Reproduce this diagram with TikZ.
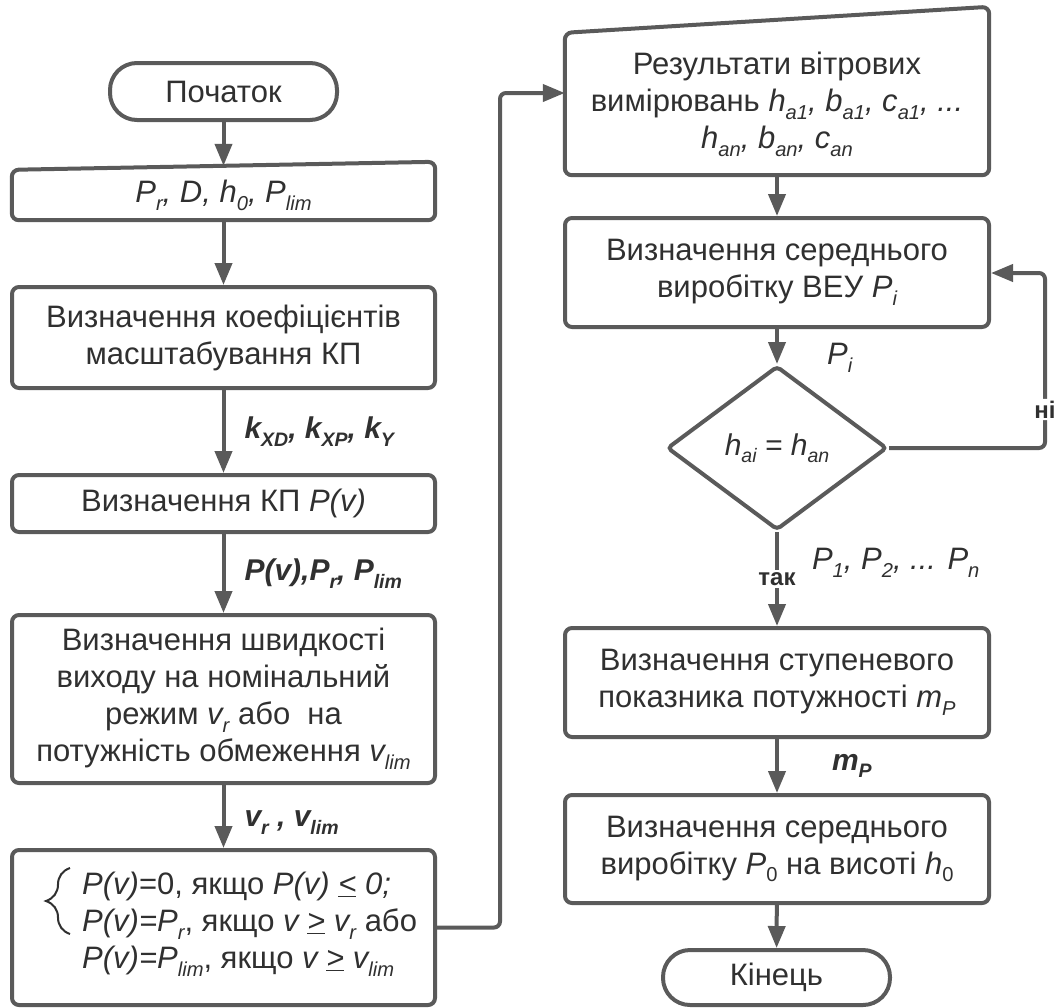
\documentclass[tikz,border=0pt]{standalone}
\usepackage{fontspec}
\setmainfont{Liberation Sans}
\usetikzlibrary{arrows.meta,shapes.geometric,decorations.pathreplacing}
\definecolor{ln}{HTML}{5A5A5A}
\definecolor{tx}{HTML}{303030}
\newcommand\sbx[1]{\raisebox{-0.25em}{\scalebox{0.65}{#1}}}
\newcommand\tsz{\fontsize{31}{37}\selectfont}
\newcommand\lsz{\fontsize{30}{34}\selectfont}
\newcommand\ssz{\fontsize{24}{28}\selectfont}
\begin{document}
\begin{tikzpicture}[x=1pt,y=-1pt,
  line/.style={draw=ln, line width=4pt},
  arr/.style={line, -{Triangle[length=22pt,width=17pt]}},
  proc/.style={draw=ln, line width=4pt, rounded corners=7pt, align=center, text=tx, font=\tsz, inner sep=0pt},
  ghost/.style={align=center, text=tx, font=\tsz, inner sep=0pt},
  term/.style={draw=ln, line width=4pt, rounded corners=27pt, text=tx, font=\tsz, inner sep=0pt},
  lbl/.style={text=tx, font=\lsz\bfseries\itshape, inner sep=0pt, anchor=west},
  yn/.style={text=tx, font=\ssz\bfseries, fill=white, inner sep=2pt},
]
\useasboundingbox (0,0) rectangle (1057,1007);

% ---------- left column ----------
\node[term, minimum width=227pt, minimum height=57pt] (start) at (223.5,91.5) {Початок};
\node[ghost, minimum width=423pt, minimum height=50pt] (inp) at (223.5,195) {\textit{P\sbx{r}, D, h\sbx{0}, P\sbx{lim}}};
\draw[line, rounded corners=7pt] (inp.north west) -- ([yshift=8pt]inp.north east) -- (inp.south east) -- (inp.south west) -- cycle;
\node[proc, minimum width=423pt, minimum height=101pt] (b2) at (223.5,337.5) {Визначення коефіцієнтів\\масштабування КП};
\node[proc, minimum width=423pt, minimum height=57pt] (b3) at (223.5,503.5) {Визначення КП \textit{P(v)}};
\node[proc, minimum width=423pt, minimum height=168pt] (b4) at (223.5,699) {Визначення швидкості\\виходу на номінальний\\режим \textit{v\sbx{r}} або~ на\\потужність обмеження \textit{v\sbx{lim}}};
\node[proc, minimum width=423pt, minimum height=155pt] (b5) at (223.5,927.5) {};
\node[ghost, align=left, anchor=west] (b5t) at (82,924) {\textit{P(v)}=0, якщо \textit{P(v) \underline{<} 0;}\\\textit{P(v)=P\sbx{r}}, якщо \textit{v \underline{>} v\sbx{r}} або\\\textit{P(v)=P\sbx{lim}}, якщо \textit{v \underline{>} v\sbx{lim}}};
\draw[draw=tx, line width=2pt, decorate, decoration={brace, amplitude=24pt}] (70,934) -- (70,868);

% ---------- right column ----------
\node[ghost, minimum width=424pt, minimum height=142pt] (res) at (777,104) {Результати вітрових\\вимірювань \textit{h\sbx{a1}, b\sbx{a1}, c\sbx{a1}, ...}\\\textit{h\sbx{an}, b\sbx{an}, c\sbx{an}}};
\draw[line, rounded corners=7pt] (res.north west) -- ([yshift=26pt]res.north east) -- (res.south east) -- (res.south west) -- cycle;
\node[proc, minimum width=424pt, minimum height=109pt] (pi) at (777,272.5) {Визначення середнього\\виробітку ВЕУ \textit{P\sbx{i}}};
\node[draw=ln, line width=4pt, diamond, rounded corners=4pt, minimum width=220pt, minimum height=164pt, inner sep=0pt, text=tx, font=\fontsize{30}{34}\selectfont] (dia) at (777,448) {\textit{h\sbx{ai} = h\sbx{an}}};
\node[proc, minimum width=424pt, minimum height=109pt] (step) at (777,682.5) {Визначення ступеневого\\показника потужності \textit{m\sbx{P}}};
\node[proc, minimum width=424pt, minimum height=108pt] (p0) at (777,849) {Визначення середнього\\виробітку \textit{P}\sbx{0} на висоті \textit{h}\sbx{0}};
\node[term, minimum width=227pt, minimum height=55pt] (fin) at (776.5,977.5) {Кінець};
\node[ghost, anchor=west, font=\tsz\itshape] (pil) at ([xshift=50pt,yshift=6pt]dia.north) {P\sbx{i}};

\coordinate (c1) at (500,93);
\coordinate (c2) at (1045,273);

% ---------- connectors ----------
\draw[arr] (start) -- ([yshift=4pt]inp.north);
\draw[arr] (inp) -- (b2);
\draw[arr] (b2) -- node[lbl, xshift=19pt] {k\sbx{XD}, k\sbx{XP}, k\sbx{Y}} (b3);
\draw[arr] (b3) -- node[lbl, xshift=19pt] {P(v),P\sbx{r}, P\sbx{lim}} (b4);
\draw[arr] (b4) -- node[lbl, xshift=19pt, yshift=-6pt] {v\sbx{r} , v\sbx{lim}} (b5);
\draw[arr, rounded corners=6pt] (b5.east) -| (c1) -- (res.west |- c1);
\draw[arr] (res) -- (pi);
\draw[arr] (pi) -- (dia);
\draw[arr] (dia) -- node[yn, pos=0.5] {так} node[ghost, anchor=west, pos=0.33, xshift=33pt, font=\tsz\itshape] {P\sbx{1}, P\sbx{2}, ... P\sbx{n}} (step);
\draw[arr, rounded corners=6pt] (dia.east) -| node[yn, pos=0.61] {ні} (c2) -- (c2 -| pi.east);
\draw[arr] (step) -- node[lbl, xshift=53pt] {m\sbx{P}} (p0);
\draw[arr] (p0) -- (fin);
\end{tikzpicture}
\end{document}
